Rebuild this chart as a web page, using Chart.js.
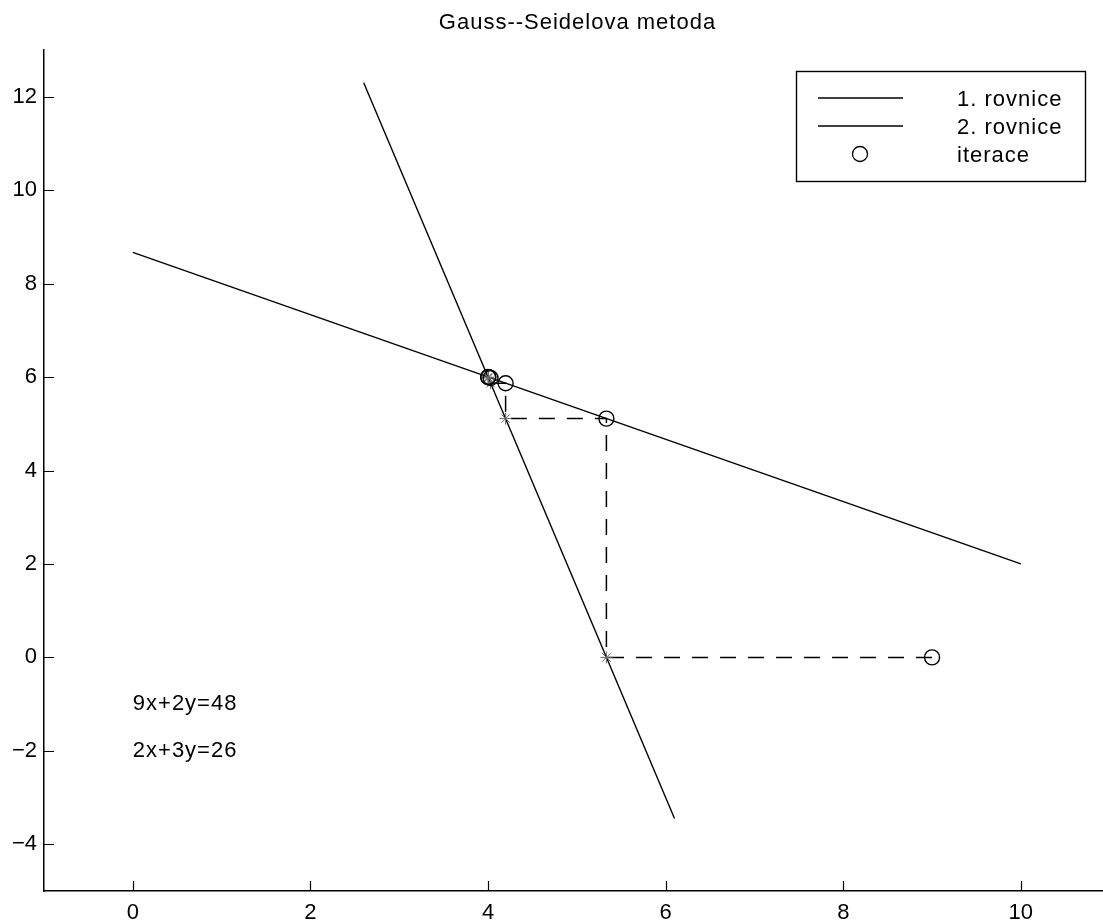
<!DOCTYPE html>
<html>
<head>
<meta charset="utf-8">
<title>Gauss–Seidelova metoda</title>
<script src="https://cdn.jsdelivr.net/npm/chart.js@4.4.1/dist/chart.umd.min.js"></script>
<style>
  html, body { margin: 0; padding: 0; background: #fff; }
  #wrap { width: 1103px; height: 924px; }
</style>
</head>
<body>
<div id="wrap"><canvas id="gs" width="1103" height="924"></canvas></div>
<script>
/* ── data ────────────────────────────────────────── */
const titleText = 'Gauss--Seidelova metoda';

// 9x+2y=48 and 2x+3y=26, end points of the drawn segments
const eq1X = [2.6, 6.1];
const eq1Y = [12.3, -3.45];
const eq2X = [0, 10];
const eq2Y = [8.667, 2];

// iterations (circles) and intermediate x-steps (stars)
const iterX = [9, 5.333, 4.198, 4.029, 4.004, 4.001];
const iterY = [0, 5.111, 5.868, 5.981, 5.997, 6.000];
const starX = [5.333, 4.198, 4.029, 4.004, 4.001];
const starY = [0, 5.111, 5.868, 5.981, 5.997];

// dashed staircase path
const pathX = [9, 5.333, 5.333, 4.198, 4.198, 4.029, 4.029, 4.004, 4.004];
const pathY = [0, 0, 5.111, 5.111, 5.868, 5.868, 5.981, 5.981, 5.997];

const xTicks = [0, 2, 4, 6, 8, 10];
const yTicks = [-4, -2, 0, 2, 4, 6, 8, 10, 12];

const legendLabels = ['1. rovnice', '2. rovnice', 'iterace'];
const noteText = ['9x+2y=48', '2x+3y=26'];
const noteX = [0, 0];
const noteY = [-1, -2];

/* ── helpers ─────────────────────────────────────── */
const FONT = '"Liberation Sans", Arial, Helvetica, sans-serif';
const pts = (xs, ys) => xs.map((x, i) => ({ x, y: ys[i] }));

function setText(ctx) {
  ctx.fillStyle = '#000';
  ctx.font = '22px ' + FONT;
  ctx.textBaseline = 'middle';
  if ('letterSpacing' in ctx) ctx.letterSpacing = '1px';
}

/* ── inward tick marks (MATLAB style) ────────────── */
const innerTicks = {
  id: 'innerTicks',
  afterDraw(chart) {
    const { ctx, chartArea: a, scales: { x, y } } = chart;
    ctx.save();
    ctx.strokeStyle = '#000';
    ctx.lineWidth = 1.2;
    ctx.beginPath();
    xTicks.forEach(v => {
      const px = Math.round(x.getPixelForValue(v)) + 0.5;
      ctx.moveTo(px, a.bottom); ctx.lineTo(px, a.bottom - 10);
    });
    yTicks.forEach(v => {
      const py = Math.round(y.getPixelForValue(v)) + 0.5;
      ctx.moveTo(a.left, py); ctx.lineTo(a.left + 10, py);
    });
    ctx.stroke();
    ctx.restore();
  }
};

/* ── title over the axes, equation notes ─────────── */
const texts = {
  id: 'texts',
  afterDraw(chart) {
    const { ctx, chartArea: a, scales: { x, y } } = chart;
    ctx.save();
    setText(ctx);
    ctx.textAlign = 'center';
    ctx.fillText(titleText, (a.left + a.right) / 2 + 4, 23);
    ctx.textAlign = 'left';
    noteText.forEach((t, i) => {
      ctx.fillText(t, x.getPixelForValue(noteX[i]), y.getPixelForValue(noteY[i]));
    });
    ctx.restore();
  }
};

/* ── boxed legend, top right ─────────────────────── */
const boxLegend = {
  id: 'boxLegend',
  afterDraw(chart) {
    const { ctx } = chart;
    const bx = 796, by = 71, bw = 289, bh = 110;
    ctx.save();
    ctx.fillStyle = '#fff';
    ctx.fillRect(bx, by, bw, bh);
    ctx.strokeStyle = '#000';
    ctx.lineWidth = 1.4;
    ctx.strokeRect(bx + 0.5, by + 0.5, bw, bh);

    const rows = [98, 126, 154];
    ctx.lineWidth = 1.3;
    [0, 1].forEach(i => {
      ctx.beginPath();
      ctx.moveTo(818, rows[i]); ctx.lineTo(903, rows[i]);
      ctx.stroke();
    });
    ctx.beginPath();
    ctx.arc(860, rows[2], 7.5, 0, Math.PI * 2);
    ctx.stroke();

    setText(ctx);
    ctx.textAlign = 'left';
    legendLabels.forEach((t, i) => ctx.fillText(t, 957, rows[i] + 2));
    ctx.restore();
  }
};

/* ── chart ───────────────────────────────────────── */
new Chart(document.getElementById('gs'), {
  type: 'scatter',
  data: {
    datasets: [
      { label: legendLabels[0], data: pts(eq1X, eq1Y), showLine: true, borderColor: '#000', borderWidth: 1.4, pointRadius: 0, order: 3 },
      { label: legendLabels[1], data: pts(eq2X, eq2Y), showLine: true, borderColor: '#000', borderWidth: 1.4, pointRadius: 0, order: 3 },
      { label: 'path', data: pts(pathX, pathY), showLine: true, borderColor: '#000', borderWidth: 1.5, borderDash: [16, 12], pointRadius: 0, order: 2 },
      { label: 'stars', data: pts(starX, starY), showLine: false, pointStyle: 'star', pointRadius: 6, borderColor: '#666', borderWidth: 1, backgroundColor: 'rgba(0,0,0,0)', order: 1 },
      { label: legendLabels[2], data: pts(iterX, iterY), showLine: false, pointStyle: 'circle', pointRadius: 7.5, borderColor: '#000', borderWidth: 1.4, backgroundColor: 'rgba(0,0,0,0)', order: 0 }
    ]
  },
  options: {
    responsive: false,
    animation: false,
    devicePixelRatio: 1,
    layout: { autoPadding: false, padding: { top: 50, right: 0, bottom: 0, left: 0 } },
    plugins: {
      legend: { display: false },
      tooltip: { enabled: false },
      title: { display: false }
    },
    scales: {
      x: {
        type: 'linear',
        min: -1,
        max: 10.925,
        afterBuildTicks: s => { s.ticks = xTicks.map(v => ({ value: v })); },
        afterFit: s => { s.height = 33; s.paddingLeft = 0; s.paddingRight = 0; },
        grid: { display: false, drawTicks: false },
        border: { display: true, color: '#000', width: 1.5 },
        ticks: { color: '#000', padding: 9, maxRotation: 0, font: { family: FONT, size: 22 } }
      },
      y: {
        type: 'linear',
        min: -5,
        max: 13,
        afterBuildTicks: s => { s.ticks = yTicks.map(v => ({ value: v })); },
        afterFit: s => { s.width = 44; s.paddingTop = 0; s.paddingBottom = 0; },
        grid: { display: false, drawTicks: false },
        border: { display: true, color: '#000', width: 1.5 },
        ticks: { color: '#000', padding: 7, font: { family: FONT, size: 22 },
                 callback: v => (v < 0 ? '\u2212' + Math.abs(v) : String(v)) }
      }
    }
  },
  plugins: [innerTicks, texts, boxLegend]
});
</script>
</body>
</html>
